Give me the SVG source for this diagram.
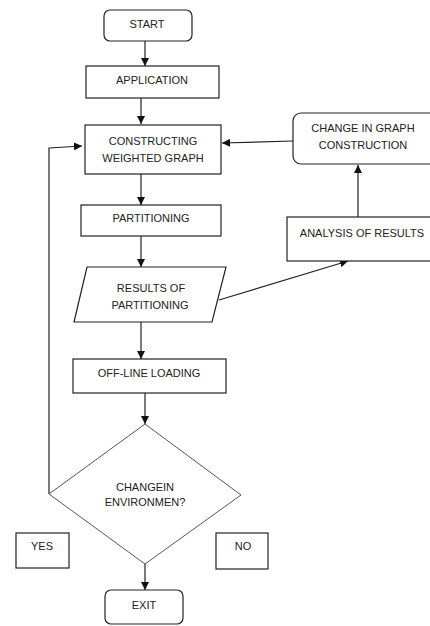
<svg xmlns="http://www.w3.org/2000/svg" width="430" height="626" viewBox="0 0 430 626">
  <style>
    .box { fill: #ffffff; stroke: #222222; stroke-width: 1.2; }
    .dia { fill: #ffffff; stroke: #555555; stroke-width: 1; }
    .lbl { font-family: "Liberation Sans", Arial, sans-serif; font-size: 11px; fill: #222222; text-anchor: middle; }
    .wire { fill: none; stroke: #222222; stroke-width: 1.2; }
  </style>
  <defs>
    <marker id="arrow" viewBox="0 0 10 10" refX="10" refY="5" markerWidth="8" markerHeight="8" markerUnits="userSpaceOnUse" orient="auto">
      <path d="M0,0 L10,5 L0,10 Z" fill="#111111"/>
    </marker>
  </defs>
  <rect width="430" height="626" fill="#ffffff"/>

  <g id="connectors">
    <line class="wire" x1="145" y1="41" x2="145" y2="66" marker-end="url(#arrow)"/>
    <line class="wire" x1="141" y1="98" x2="141" y2="124" marker-end="url(#arrow)"/>
    <line class="wire" x1="141" y1="174" x2="141" y2="205" marker-end="url(#arrow)"/>
    <line class="wire" x1="141" y1="236" x2="141" y2="267" marker-end="url(#arrow)"/>
    <line class="wire" x1="141" y1="322" x2="141" y2="359" marker-end="url(#arrow)"/>
    <line class="wire" x1="145" y1="393" x2="145" y2="424" marker-end="url(#arrow)"/>
    <line class="wire" x1="145" y1="564" x2="145" y2="590" marker-end="url(#arrow)"/>
    <!-- loop back from the decision to graph construction -->
    <polyline class="wire" points="49,494 49,148 82,146" marker-end="url(#arrow)"/>
    <!-- feedback path on the right -->
    <line class="wire" x1="219" y1="300" x2="348" y2="261" marker-end="url(#arrow)"/>
    <line class="wire" x1="358" y1="217" x2="358" y2="165" marker-end="url(#arrow)"/>
    <line class="wire" x1="293" y1="141" x2="222" y2="143" marker-end="url(#arrow)"/>
  </g>

  <g id="start">
    <rect class="box" x="104" y="10" width="88" height="31" rx="6"/>
    <text class="lbl" x="147" y="28">START</text>
  </g>
  <g id="application">
    <rect class="box" x="86" y="66" width="133" height="32"/>
    <text class="lbl" x="152" y="84">APPLICATION</text>
  </g>
  <g id="constructing">
    <rect class="box" x="85" y="125" width="136" height="49"/>
    <text class="lbl" x="153" y="145">CONSTRUCTING</text>
    <text class="lbl" x="153" y="162">WEIGHTED GRAPH</text>
  </g>
  <g id="partitioning">
    <rect class="box" x="81" y="205" width="140" height="31"/>
    <text class="lbl" x="151" y="222">PARTITIONING</text>
  </g>
  <g id="results">
    <polygon class="box" points="87,267 226,267 212,322 74,322"/>
    <text class="lbl" x="151" y="292">RESULTS OF</text>
    <text class="lbl" x="150" y="309">PARTITIONING</text>
  </g>
  <g id="offline">
    <rect class="box" x="73" y="359" width="153" height="34"/>
    <text class="lbl" x="149" y="377">OFF-LINE LOADING</text>
  </g>
  <g id="decision">
    <polygon class="dia" points="145,424 241,495 145,564 49,494"/>
    <text class="lbl" x="145" y="491">CHANGEIN</text>
    <text class="lbl" x="145" y="506">ENVIRONMEN?</text>
  </g>
  <g id="yes">
    <rect class="box" x="16" y="533" width="53" height="35"/>
    <text class="lbl" x="42" y="550">YES</text>
  </g>
  <g id="no">
    <rect class="box" x="216" y="533" width="52" height="36"/>
    <text class="lbl" x="243" y="550">NO</text>
  </g>
  <g id="exit">
    <rect class="box" x="105" y="590" width="78" height="34" rx="6"/>
    <text class="lbl" x="144" y="609">EXIT</text>
  </g>
  <g id="change-graph">
    <rect class="box" x="293" y="113" width="145" height="51" rx="8"/>
    <text class="lbl" x="363" y="132">CHANGE IN GRAPH</text>
    <text class="lbl" x="363" y="149">CONSTRUCTION</text>
  </g>
  <g id="analysis">
    <rect class="box" x="287" y="217" width="150" height="44"/>
    <text class="lbl" x="362" y="237">ANALYSIS OF RESULTS</text>
  </g>
</svg>
